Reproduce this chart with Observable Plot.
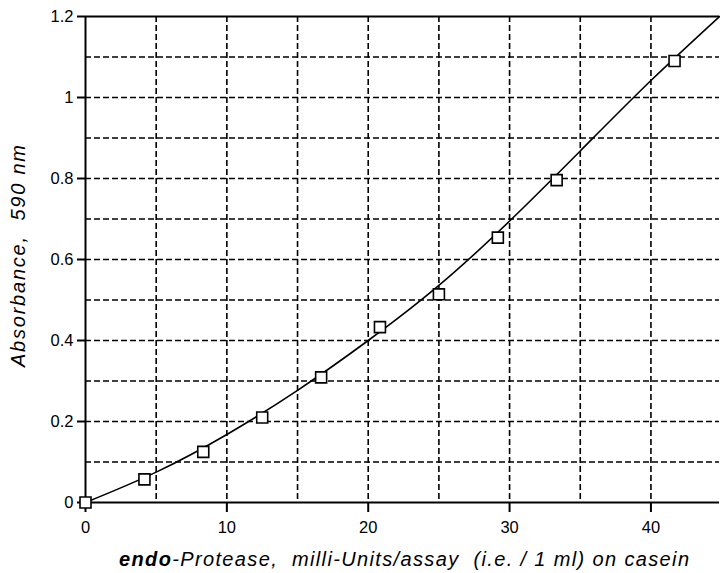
<!DOCTYPE html>
<html>
<head>
<meta charset="utf-8">
<script src="https://cdn.jsdelivr.net/npm/d3@7"></script>
<script src="https://cdn.jsdelivr.net/npm/@observablehq/plot@0.6"></script>
<style>
  html, body { margin: 0; padding: 0; background: #fff; }
  #chart svg { display: block; }
</style>
</head>
<body>
<div id="chart"></div>
<script>
// Measured points (activity in milli-Units/assay vs absorbance at 590 nm)
const pointX = [0, 4.17, 8.33, 12.5, 16.67, 20.83, 25, 29.17, 33.33, 41.67];
const pointY = [0, 0.057, 0.125, 0.21, 0.309, 0.433, 0.514, 0.654, 0.796, 1.09];

// Fitted calibration curve
const curveX = [0, 5, 10, 15, 20, 25, 30, 35, 40, 44.85];
const curveY = [0, 0.075, 0.168, 0.277, 0.400, 0.536, 0.695, 0.868, 1.042, 1.2];

const xTicks = [0, 10, 20, 30, 40];
const yTicks = [0, 0.2, 0.4, 0.6, 0.8, 1, 1.2];
const xGrid = [5, 10, 15, 20, 25, 30, 35, 40];
const yGrid = [0.1, 0.2, 0.3, 0.4, 0.5, 0.6, 0.7, 0.8, 0.9, 1, 1.1];

const points = pointX.map((x, i) => ({x, y: pointY[i]}));
const curve = curveX.map((x, i) => ({x, y: curveY[i]}));

const W = 720, H = 573;
const font = "'Liberation Sans', Arial, Helvetica, sans-serif";

const chart = Plot.plot({
  width: W,
  height: H,
  marginLeft: 85,
  marginRight: 1,
  marginTop: 16,
  marginBottom: 71,
  style: {fontFamily: font, fontSize: "16px", color: "#000", background: "#fff", overflow: "visible"},
  x: {type: "linear", domain: [0, 44.85], label: null},
  y: {type: "linear", domain: [0, 1.2], label: null},
  marks: [
    Plot.ruleX(xGrid, {stroke: "#000", strokeWidth: 1.6, strokeDasharray: "6,3"}),
    Plot.ruleY(yGrid, {stroke: "#000", strokeWidth: 1.6, strokeDasharray: "6,3"}),
    Plot.ruleY([0, 1.2], {stroke: "#000", strokeWidth: 2}),
    Plot.ruleX([0], {stroke: "#000", strokeWidth: 2}),
    // tick marks (labels drawn separately below)
    Plot.axisX({ticks: xTicks, tickSize: 10, tickFormat: () => "", stroke: "#000", strokeWidth: 2, label: null}),
    Plot.axisY({ticks: yTicks, tickSize: 8, tickFormat: () => "", stroke: "#000", strokeWidth: 2, label: null}),
    // tick labels
    Plot.text(xTicks, {x: d => d, y: d => 0, text: d => String(d), dy: 25, fontSize: 16.5, fill: "#000", textAnchor: "middle", lineAnchor: "middle"}),
    Plot.text(yTicks, {x: d => 0, y: d => d, text: d => String(d), dx: -12, fontSize: 16.5, fill: "#000", textAnchor: "end", lineAnchor: "middle"}),
    Plot.line(curve, {x: "x", y: "y", curve: "natural", stroke: "#000", strokeWidth: 1.6}),
    Plot.dot(points, {x: "x", y: "y", symbol: "square", r: 6.2, fill: "#fff", stroke: "#000", strokeWidth: 1.6})
  ]
});

document.getElementById("chart").appendChild(chart);

const svg = d3.select(chart);

// Axis titles (mixed bold / italic) as real SVG text
const xl = svg.append("text")
  .attr("x", 404)
  .attr("y", 566)
  .attr("text-anchor", "middle")
  .attr("font-family", font)
  .attr("font-size", 20)
  .attr("font-style", "italic")
  .attr("fill", "#000")
  .style("white-space", "pre");
xl.append("tspan").attr("font-weight", "bold").text("endo");
xl.append("tspan").text("-Protease,  milli-Units/assay  (i.e. / 1 ml) on casein");
xl.attr("textLength", 570).attr("lengthAdjust", "spacing");

svg.append("text")
  .attr("transform", "translate(25,256) rotate(-90)")
  .attr("text-anchor", "middle")
  .attr("font-family", font)
  .attr("font-size", 20)
  .attr("font-style", "italic")
  .attr("fill", "#000")
  .style("white-space", "pre")
  .text("Absorbance,  590 nm")
  .attr("textLength", 222)
  .attr("lengthAdjust", "spacing");
</script>
</body>
</html>
